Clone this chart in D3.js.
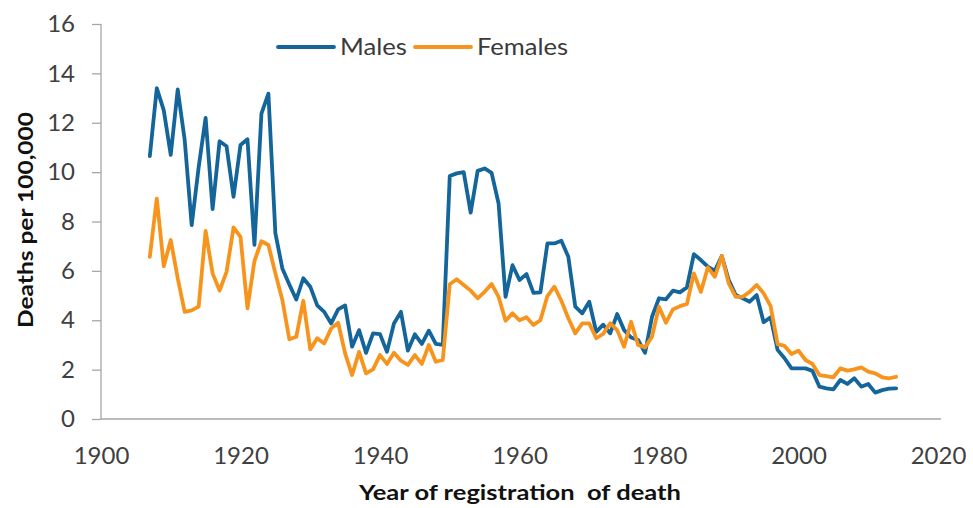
<!DOCTYPE html>
<html><head><meta charset="utf-8">
<script src="https://cdnjs.cloudflare.com/ajax/libs/d3/7.8.5/d3.min.js"></script>
<style>
html,body{margin:0;padding:0;background:#fff;}
text{font-family:Lato,"Open Sans",sans-serif;fill:#404040;}
</style></head>
<body>
<svg id="chart" width="973" height="508"></svg>
<script>
const years = d3.range(1907, 2015);
const males = [
10.65,13.4,12.5,10.7,13.35,11.3,7.85,10.2,12.2,8.5,11.25,11.05,9.0,11.1,11.33,7.05,12.37,13.18,
7.53,6.1,5.45,4.84,5.7,5.36,4.6,4.34,3.87,4.44,4.6,2.93,3.6,2.68,3.47,3.44,2.72,3.87,4.34,2.77,3.43,3.04,3.58,3.04,3.0,
9.84,9.95,10.0,8.36,10.05,10.15,9.97,8.73,4.95,6.23,5.63,5.87,5.11,5.13,7.11,7.11,7.22,6.57,4.55,4.28,4.75,3.53,
3.82,3.47,4.25,3.6,3.3,3.2,2.68,4.14,4.89,4.85,5.2,5.13,5.33,6.68,6.44,6.17,6.0,6.6,5.63,5.02,4.89,4.75,5.02,3.92,4.12,2.8,
2.46,2.05,2.05,2.05,1.95,1.31,1.24,1.2,1.58,1.42,1.65,1.31,1.42,1.07,1.17,1.23,1.24
];
const females = [
6.57,8.93,6.19,7.25,5.7,4.34,4.4,4.55,7.62,5.9,5.2,5.96,7.76,7.38,4.48,6.4,7.2,7.05,
5.9,4.82,3.23,3.33,4.79,2.82,3.27,3.06,3.67,3.9,2.66,1.78,2.72,1.85,2.01,2.59,2.23,2.68,2.36,2.19,2.59,2.23,3.0,2.32,2.39,
5.46,5.66,5.43,5.2,4.89,5.15,5.47,4.95,3.98,4.28,4.0,4.12,3.81,4.0,4.98,5.36,4.79,4.08,3.47,3.87,3.87,3.27,
3.45,3.88,3.6,2.93,3.94,3.0,2.9,3.33,4.55,3.9,4.44,4.57,4.66,5.9,5.15,6.14,5.76,6.6,5.49,4.95,4.95,5.15,5.43,5.09,4.57,3.03,
2.96,2.63,2.77,2.39,2.23,1.78,1.74,1.69,2.05,1.96,2.01,2.09,1.92,1.85,1.69,1.65,1.71
];
const xTicks = [1900,1920,1940,1960,1980,2000,2020];
const yTicks = [0,2,4,6,8,10,12,14,16];
const seriesNames = ["Males","Females"];
const colors = ["#14659a","#f7941d"];

const svg = d3.select("#chart");
const x = d3.scaleLinear().domain([1900,2020]).range([101,938]);
const y = d3.scaleLinear().domain([0,16]).range([419,24]);

// Y axis
const yAxis = svg.append("g").attr("transform","translate(101,0)")
  .call(d3.axisLeft(y).tickValues(yTicks).tickSize(9).tickPadding(17).tickFormat(d3.format("d")));
yAxis.selectAll("path,line").attr("stroke","#a6a6a6").attr("stroke-width",1.3);
yAxis.select(".domain").attr("d","M0,24V419");
yAxis.selectAll("text").attr("font-size",24).attr("font-family","Lato, sans-serif").attr("fill","#3a3a3a");

// X axis
const xAxis = svg.append("g").attr("transform","translate(0,419)")
  .call(d3.axisBottom(x).tickValues(xTicks).tickSize(0).tickPadding(28).tickFormat(d3.format("d")));
xAxis.selectAll("path,line").attr("stroke","#a6a6a6").attr("stroke-width",1.3);
xAxis.select(".domain").attr("d","M101,0H941");
xAxis.selectAll("text").attr("font-size",24).attr("font-family","Lato, sans-serif").attr("fill","#3a3a3a");

// Lines
const line = d3.line().x((d,i)=>x(years[i])).y(d=>y(d));
[males,females].forEach((s,k)=>{
  svg.append("path").datum(s).attr("d",line).attr("fill","none")
    .attr("stroke",colors[k]).attr("stroke-width",3.8).attr("stroke-linejoin","round").attr("stroke-linecap","round");
});

// Legend
const legX = [278,415];
const legW = [67,91];
seriesNames.forEach((n,k)=>{
  svg.append("line").attr("x1",legX[k]).attr("x2",legX[k]+56).attr("y1",47).attr("y2",47)
    .attr("stroke",colors[k]).attr("stroke-width",3.8).attr("stroke-linecap","round");
  svg.append("text").attr("x",legX[k]+62).attr("y",55).attr("font-size",23)
    .attr("textLength",legW[k]).attr("lengthAdjust","spacingAndGlyphs").style("fill","#3a3a3a").text(n);
});

// Axis titles
svg.append("text").attr("transform","translate(33,220) rotate(-90)").attr("text-anchor","middle")
  .attr("font-size",21).attr("font-weight","bold").attr("textLength",216).attr("lengthAdjust","spacingAndGlyphs")
  .style("fill","#111").text("Deaths per 100,000");
svg.append("text").attr("x",520).attr("y",500).attr("text-anchor","middle")
  .attr("font-size",21).attr("font-weight","bold").attr("textLength",322).attr("lengthAdjust","spacingAndGlyphs")
  .style("fill","#111").style("white-space","pre").text("Year of registration  of death");
</script>
</body></html>
